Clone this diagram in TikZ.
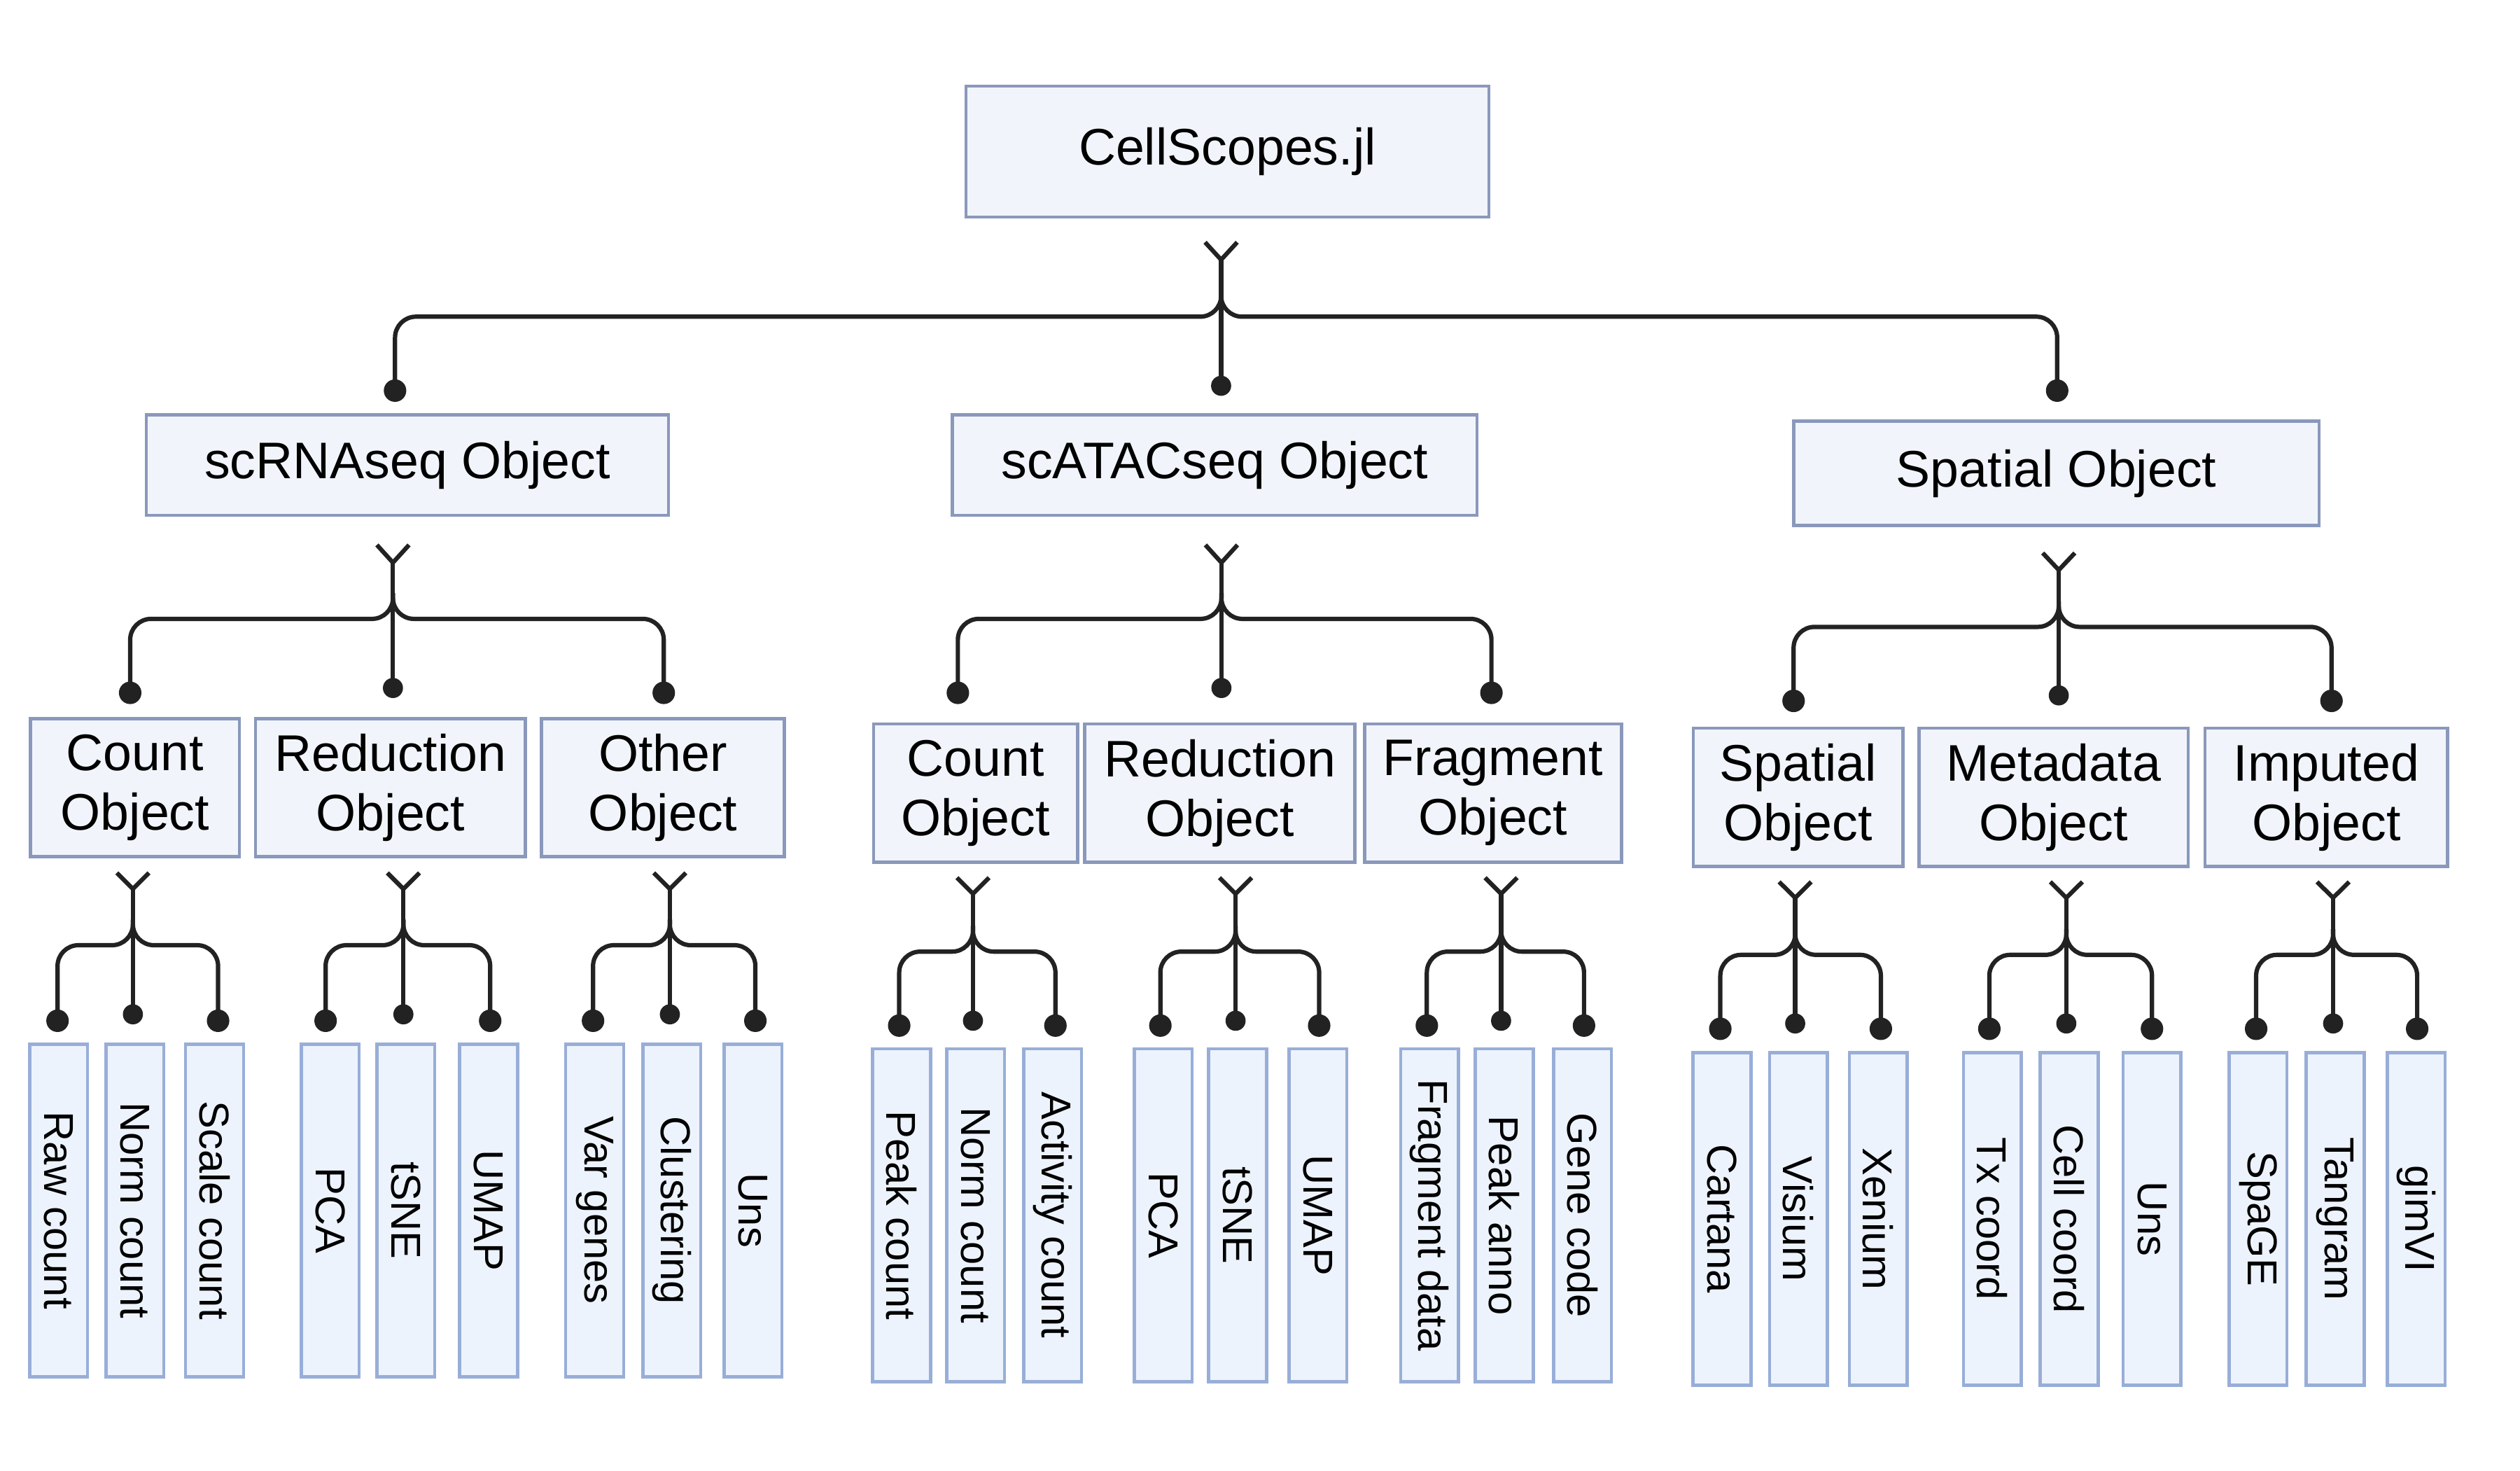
\documentclass[tikz,border=0pt]{standalone}
\usepackage{fontspec}
\setmainfont{Liberation Sans}
\usetikzlibrary{calc}
\definecolor{boxline}{HTML}{8A98BB}
\definecolor{boxfill}{HTML}{F1F5FB}
\definecolor{leafline}{HTML}{98AED8}
\definecolor{leaffill}{HTML}{EDF3FC}
\definecolor{conncol}{HTML}{222222}
\tikzset{
  objbox/.style={draw=boxline, fill=boxfill, line width=2pt, inner sep=0pt, align=center,
    font=\fontsize{32}{37}\selectfont},
  leafbox/.style={draw=leafline, fill=leaffill, line width=2pt, inner sep=0pt, rotate=-90,
    minimum width=207pt, minimum height=36pt, font=\fontsize{26}{30}\selectfont},
  conn/.style={draw=conncol, line width=2.7pt},
  dotS/.style={circle, fill=conncol, inner sep=0pt, minimum size=14pt},
  dotM/.style={circle, fill=conncol, inner sep=0pt, minimum size=12.5pt},
}
\begin{document}
\begin{tikzpicture}[x=1pt,y=-1pt]
\useasboundingbox (0,0) rectangle (1568,914.7);

% ---- level 0 and 1 boxes
\node[objbox, minimum width=325.4pt, minimum height=81.4pt] (root) at (763.7,94.3) {CellScopes.jl};
\node[objbox, minimum width=325pt, minimum height=62.6pt] (rna) at (253.5,289.3) {scRNAseq Object};
\node[objbox, minimum width=326.4pt, minimum height=62.6pt] (atac) at (755.8,289.3) {scATACseq Object};
\node[objbox, minimum width=327pt, minimum height=65pt] (spat) at (1279.5,294.5) {Spatial Object};

% ---- level 2 boxes
\foreach \n/\cx/\cy/\w/\txt in {
  rc/84/490/130/{Count\\Object},
  rr/243/490/168/{Reduction\\Object},
  ro/412.5/490/151/{Other\\Object},
  ac/607/493.3/127/{Count\\Object},
  ar/759/493.3/168/{Reduction\\Object},
  af/929/493.3/160/{Fragment\\Object},
  sc/1118.8/496/130.4/{Spatial\\Object},
  sm/1277.8/496/167.5/{Metadata\\Object},
  si/1447.5/496/151/{Imputed\\Object}}{
  \node[objbox, minimum width=\w pt, minimum height=86pt] (\n) at (\cx,\cy) {\txt};
}

% ---- leaves
\foreach \n/\cx/\cy/\txt in {
  rc1/36.5/753/Raw count, rc2/84/753/Norm count, rc3/133.5/753/Scale count,
  rr1/205.5/753/PCA, rr2/252.5/753/tSNE, rr3/304/753/UMAP,
  ro1/370/753/Var genes, ro2/418/753/Clustering, ro3/468.5/753/Uns,
  ac1/561/756/Peak count, ac2/607/756/Norm count, ac3/655/756/Activity count,
  ar1/723.7/756/PCA, ar2/770/756/tSNE, ar3/820/756/UMAP,
  af1/889.5/756/Fragment data, af2/936/756/Peak anno, af3/984.7/756/Gene code,
  sc1/1071.5/758.3/Cartana, sc2/1119/758.3/Visium, sc3/1168.7/758.3/Xenium,
  sm1/1239.7/758.3/Tx coord, sm2/1287.5/758.3/Cell coord, sm3/1339/758.3/Uns,
  si1/1405/758.3/SpaGE, si2/1453/758.3/Tangram, si3/1503.4/758.3/gimVI}{
  \node[leafbox] (\n-leaf) at (\cx,\cy) {\txt};
}

% ---- forks: name / cx / arm top / tip / bar / xL / xR / side dot y / mid dot y
\foreach \n/\cx/\yt/\yj/\yb/\xl/\xr/\ys/\ym in {
  f0/759.8/150.7/161.6/197/245.8/1280/243/240,
  f1/244.5/339/350/385/81/413/431/428,
  f2/760/339/350/385/596/928/431/428,
  f3/1281/344/354.6/390/1116/1450.7/436/432.6,
  frc/82.7/543/553/588/35.8/135.7/635/631,
  frr/251/543/553/588/202.6/305/635/631,
  fro/416.8/543/553/588/369/470/635/631,
  fac/605.4/546/556/592/559.5/656.7/638/635,
  far/768.8/546/556/592/722/820.8/638/635,
  faf/934/546/556/592/887.8/985.6/638/635,
  fsc/1117/548.6/558.5/594/1070.4/1170.3/640/636.7,
  fsm/1285.7/548.6/558.5/594/1237.8/1339/640/636.7,
  fsi/1451.7/548.6/558.5/594/1403.8/1504/640/636.7}{
  \coordinate (\n-a) at (\cx-10,\yt);
  \coordinate (\n-b) at (\cx+10,\yt);
  \coordinate (\n-tip) at (\cx,\yj);
  \coordinate (\n-j) at (\cx,\yb);
  \coordinate (\n-up) at (\cx,\yb-16);
  \node[dotS] (\n-L) at (\xl,\ys) {};
  \node[dotM] (\n-M) at (\cx,\ym) {};
  \node[dotS] (\n-R) at (\xr,\ys) {};
  \draw[conn] (\n-a) -- (\n-tip) -- (\n-b);
  \draw[conn] (\n-tip) -- (\n-M.center);
  \draw[conn, rounded corners=13pt] (\n-L.center) |- (\n-j) -- (\n-up);
  \draw[conn, rounded corners=13pt] (\n-R.center) |- (\n-j) -- (\n-up);
}
\end{tikzpicture}
\end{document}
